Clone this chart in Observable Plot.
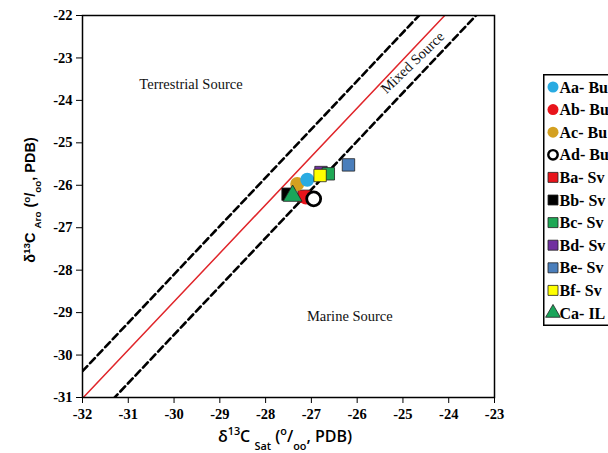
<!DOCTYPE html>
<html>
<head>
<meta charset="utf-8">
<script src="https://cdn.jsdelivr.net/npm/d3@7"></script>
<script src="https://cdn.jsdelivr.net/npm/@observablehq/plot@0.6"></script>
<style>
  html, body { margin: 0; padding: 0; background: #fff; overflow: hidden; }
  #wrap { position: relative; width: 608px; height: 453px; }
  #legend { position: absolute; left: 543px; top: 74px; }
</style>
</head>
<body>
<div id="wrap"><div id="chart"></div><div id="legend"></div></div>
<script>
// ---- data ----
const labels  = ["Aa- Bu","Ab- Bu","Ac- Bu","Ad- Bu","Ba- Sv","Bb- Sv","Bc- Sv","Bd- Sv","Be- Sv","Bf- Sv","Ca- IL"];
const satC    = [-27.09, -27.12, -27.31, -26.95, -27.16, -27.51, -26.63, -26.79, -26.19, -26.81, -27.41];
const aroC    = [-25.87, -26.29, -25.97, -26.32, -26.26, -26.21, -25.73, -25.70, -25.52, -25.77, -26.25];
const shapes  = ["circle","circle","circle","circle","square","square","square","square","square","square","triangle"];
const fills   = ["#29abe2","#e8141b","#d4a020","#ffffff","#e8141b","#000000","#1fa855","#7030a0","#4a7ebb","#ffff00","#1aa55a"];
const drawOrder = [4, 2, 0, 1, 3, 5, 10, 7, 6, 9, 8];

const xTicks = [-32,-31,-30,-29,-28,-27,-26,-25,-24,-23];
const yTicks = [-31,-30,-29,-28,-27,-26,-25,-24,-23,-22];

// discrimination lines: aro = slope * sat + intercept
const lineNames      = ["upper","sofer","lower"];
const lineSlopes     = [1.14, 1.14, 1.14];
const lineIntercepts = [6.10, 5.46, 4.68];

const regionLabels = ["Terrestrial Source","Marine Source","Mixed Source"];
const regionX      = [-29.63, -26.16, -24.79];
const regionY      = [-23.63, -29.08, -23.11];

// ---- build ----
const pts = drawOrder.map(i => ({label: labels[i], x: satC[i], y: aroC[i], shape: shapes[i], fill: fills[i]}));
const lineData = name => {
  const i = lineNames.indexOf(name);
  return [xTicks[0], xTicks[xTicks.length-1]].map(x => ({x, y: lineSlopes[i]*x + lineIntercepts[i]}));
};
const fmt = d => String(d).replace("−","-");
const serif = "Liberation Serif";

const plot = Plot.plot({
  width: 608, height: 453,
  marginLeft: 82, marginRight: 114, marginTop: 15, marginBottom: 56,
  style: {fontFamily: serif, fontSize: "14px", color: "#000", background: "transparent"},
  x: {domain: [-32, -23]},
  y: {domain: [-31, -22]},
  marks: [
    Plot.axisX({ticks: xTicks, tickSize: 6, tickPadding: 5, label: null, tickFormat: fmt, fontSize: 14.5, fontFamily: serif, fontWeight: "bold"}),
    Plot.axisY({ticks: yTicks, tickSize: 6, tickPadding: 4, label: null, tickFormat: fmt, fontSize: 14.5, fontFamily: serif, fontWeight: "bold"}),
    Plot.line(lineData("upper"), {x: "x", y: "y", stroke: "#000", strokeWidth: 2.6, strokeDasharray: "7,4", clip: true}),
    Plot.line(lineData("lower"), {x: "x", y: "y", stroke: "#000", strokeWidth: 2.6, strokeDasharray: "7,4", clip: true}),
    Plot.line(lineData("sofer"), {x: "x", y: "y", stroke: "#e0262b", strokeWidth: 1.5, clip: true}),
    Plot.text([0,1], {x: i => regionX[i], y: i => regionY[i], text: i => regionLabels[i], fontFamily: serif, fontWeight: "normal", fontSize: 14.5, fill: "#111"}),
    Plot.text([2], {x: i => regionX[i], y: i => regionY[i], text: i => regionLabels[i], fontFamily: serif, fontWeight: "normal", fontSize: 14.5, fill: "#111", rotate: -44}),
    Plot.dot(pts, {x: "x", y: "y", symbol: "shape", fill: "fill", r: 7,
      stroke: d => d.fill === "#ffffff" ? "#000" : (d.shape === "circle" ? "none" : "#222"),
      strokeWidth: d => d.fill === "#ffffff" ? 2.8 : 0.8}),
    Plot.frame({stroke: "#000", strokeWidth: 1.5})
  ]
});
document.getElementById("chart").appendChild(plot);

// axis titles with super/subscripts
const svg = d3.select(plot);
function richLabel(g, parts) {
  parts.forEach(([t, kind]) => {
    const ts = g.append("tspan").text(t);
    if (kind === "sup") ts.attr("font-size", "0.68em").attr("baseline-shift", "super");
    if (kind === "sub") ts.attr("font-size", "0.68em").attr("baseline-shift", "sub");
  });
}
const xl = svg.append("text")
  .attr("x", 285).attr("y", 442)
  .attr("text-anchor", "middle")
  .style("font-family", "'Open Sans', 'Noto Sans', sans-serif")
  .style("font-weight", "600").style("font-size", "16px").attr("fill", "#000");
richLabel(xl, [["δ"],["13","sup"],["C "],["Sat","sub"],[" ("],["o","sup"],["/"],["oo","sub"],[", PDB)"]]);

const yl = svg.append("text")
  .attr("transform", "translate(35,200) rotate(-90)")
  .attr("text-anchor", "middle")
  .style("font-family", "'Liberation Sans', Arial, sans-serif")
  .style("font-weight", "bold").style("font-size", "14.5px").attr("fill", "#000");
richLabel(yl, [["δ"],["13","sup"],["C "],["Aro","sub"],[" ("],["o","sup"],["/"],["oo","sub"],[", PDB)"]]);

// legend
const rowH = 22.6, lw = 90, lh = 252;
const lsvg = d3.select("#legend").append("svg").attr("width", lw).attr("height", lh);
lsvg.append("rect").attr("x", 0.75).attr("y", 0.75).attr("width", lw).attr("height", lh - 1.5)
  .attr("fill", "#fff").attr("stroke", "#000").attr("stroke-width", 1.5);
const symMap = {circle: d3.symbolCircle, square: d3.symbolSquare, triangle: d3.symbolTriangle};
labels.forEach((lab, i) => {
  const cy = 13 + i * rowH;
  const g = lsvg.append("g").attr("transform", `translate(10,${cy})`);
  const isOpen = fills[i] === "#ffffff";
  g.append("path")
    .attr("d", d3.symbol(symMap[shapes[i]], shapes[i] === "square" ? 100 : (isOpen ? 70 : 95))())
    .attr("fill", fills[i])
    .attr("stroke", isOpen ? "#000" : (shapes[i] === "circle" ? "none" : "#222"))
    .attr("stroke-width", isOpen ? 2.4 : 0.8);
  lsvg.append("text").attr("x", 16.5).attr("y", cy + 5.5)
    .style("font-family", serif).style("font-weight", "bold")
    .style("font-size", "16px").attr("fill", "#000")
    .text(lab);
});
</script>
</body>
</html>
